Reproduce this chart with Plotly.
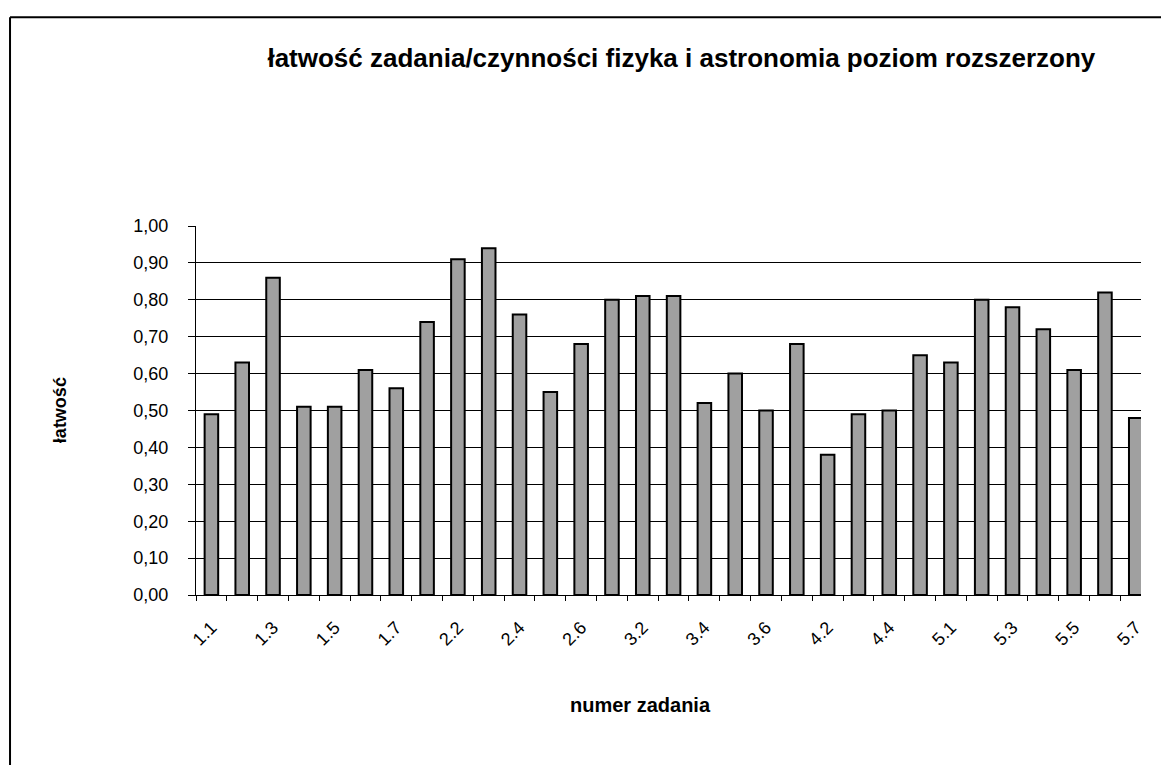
import plotly.graph_objects as go

# numer zadania / latwosc
zadania = ['1.1', '1.2', '1.3', '1.4', '1.5', '1.6', '1.7', '2.1', '2.2', '2.3', '2.4', '2.5', '2.6',
           '3.1', '3.2', '3.3', '3.4', '3.5', '3.6', '4.1', '4.2', '4.3', '4.4', '4.5',
           '5.1', '5.2', '5.3', '5.4', '5.5', '5.6', '5.7']
latwosc = [0.49, 0.63, 0.86, 0.51, 0.51, 0.61, 0.56, 0.74, 0.91, 0.94, 0.76, 0.55, 0.68,
           0.80, 0.81, 0.81, 0.52, 0.60, 0.50, 0.68, 0.38, 0.49, 0.50, 0.65,
           0.63, 0.80, 0.78, 0.72, 0.61, 0.82, 0.48]
etykiety = [z if i % 2 == 0 else '' for i, z in enumerate(zadania)]
y_ticks = [i / 10 for i in range(11)]

font = 'Liberation Sans, Arial, sans-serif'

fig = go.Figure(go.Bar(
    x=zadania, y=latwosc, width=0.44,
    marker=dict(color='#a0a0a0', line=dict(color='black', width=2)),
))

# page body has an 8px margin, so the figure is a bit smaller than the window
fig.update_layout(
    width=1161, height=757,
    paper_bgcolor='white', plot_bgcolor='white',
    margin=dict(l=188, r=28, t=218, b=170),
    separators=', ',
    showlegend=False,
    font=dict(family=font, color='black'),
    title=dict(text='<b>łatwość zadania/czynności fizyka i astronomia poziom rozszerzony</b>',
               x=0.58, xanchor='center', y=0.934, yanchor='middle',
               font=dict(size=26, family=font)),
    shapes=[
        dict(type='line', xref='paper', yref='paper', x0=-0.1968, x1=1.03, y0=1.566, y1=1.566,
             line=dict(color='black', width=2)),
        dict(type='line', xref='paper', yref='paper', x0=-0.1968, x1=-0.1968, y0=1.566, y1=-0.47,
             line=dict(color='black', width=2)),
    ],
    annotations=[
        dict(text='<b>numer zadania</b>', xref='paper', yref='paper', x=0.47, y=-0.333,
             showarrow=False, font=dict(size=20)),
        dict(text='<b>łatwość</b>', xref='paper', yref='paper', x=-0.157, y=0.5,
             textangle=-90, showarrow=False, font=dict(size=18)),
    ],
)

fig.update_xaxes(
    type='category', range=[-0.5, 30.17],
    tickmode='array', tickvals=zadania, ticktext=etykiety,
    tickson='boundaries', ticks='outside', ticklen=5, tickcolor='black',
    tickangle=-45, tickfont=dict(size=18), ticklabelstandoff=14,
    showline=True, linecolor='black', linewidth=1, showgrid=False,
)
fig.update_yaxes(
    range=[0, 1], tickmode='array', tickvals=y_ticks, tickformat='.2f',
    ticks='outside', ticklen=7, tickcolor='black', tickfont=dict(size=18),
    ticklabelstandoff=16,
    showline=True, linecolor='black', linewidth=1,
    showgrid=True, gridcolor='black', gridwidth=1, zeroline=False,
)

fig.write_html('out.html')
